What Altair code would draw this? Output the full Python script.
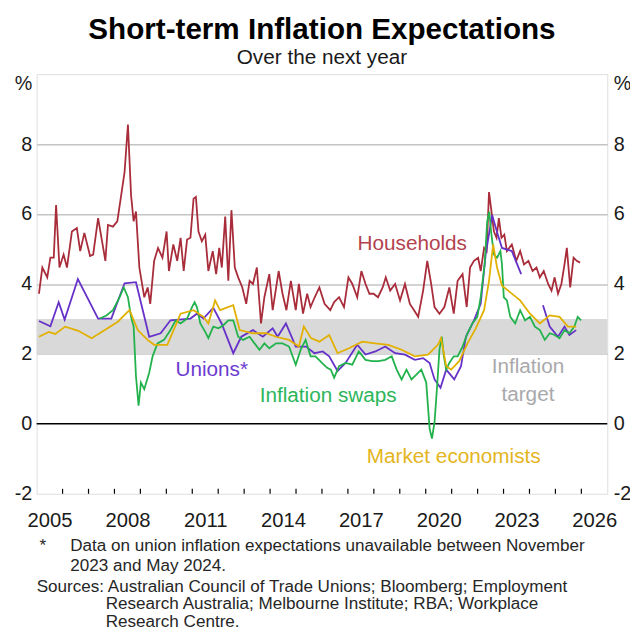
import altair as alt
import pandas as pd

# ---------------- data ----------------
hh_x = [2005.09, 2005.22, 2005.41, 2005.53, 2005.66, 2005.75, 2005.88, 2006.04, 2006.17, 2006.36,
        2006.55, 2006.68, 2006.84, 2007.06, 2007.18, 2007.37, 2007.50, 2007.65, 2007.75, 2007.94,
        2008.11, 2008.26, 2008.39, 2008.52, 2008.64, 2008.74, 2008.83, 2008.96, 2009.15, 2009.28,
        2009.38, 2009.53, 2009.68, 2009.85, 2010.01, 2010.10, 2010.27, 2010.42, 2010.55, 2010.67,
        2010.80, 2010.93, 2011.05, 2011.14, 2011.24, 2011.37, 2011.50, 2011.62, 2011.79, 2011.92,
        2012.04, 2012.14, 2012.27, 2012.39, 2012.51, 2012.64, 2012.77, 2012.93, 2013.08, 2013.21,
        2013.34, 2013.49, 2013.65, 2013.78, 2013.97, 2014.10, 2014.33, 2014.48, 2014.63, 2014.80,
        2014.99, 2015.11, 2015.27, 2015.43, 2015.56, 2015.72, 2015.90, 2016.10, 2016.32, 2016.47,
        2016.66, 2016.85, 2017.02, 2017.17, 2017.36, 2017.52, 2017.68, 2017.83, 2017.99, 2018.16,
        2018.34, 2018.46, 2018.63, 2018.82, 2019.01, 2019.20, 2019.39, 2019.55, 2019.71, 2019.90,
        2020.06, 2020.21, 2020.34, 2020.53, 2020.72, 2020.91, 2021.08, 2021.23, 2021.42, 2021.58,
        2021.71, 2021.86, 2022.02, 2022.12, 2022.25, 2022.35, 2022.44, 2022.52, 2022.63, 2022.73,
        2022.82, 2022.92, 2023.03, 2023.13, 2023.32, 2023.49, 2023.64, 2023.79, 2023.96, 2024.12,
        2024.27, 2024.40, 2024.55, 2024.72, 2024.85, 2024.97, 2025.10, 2025.23, 2025.35, 2025.44,
        2025.57, 2025.70, 2025.82, 2025.95]
hh_y = [3.72, 4.47, 4.19, 4.75, 4.75, 6.26, 4.47, 4.84, 4.47, 5.50,
        5.60, 4.94, 5.46, 4.80, 4.84, 5.88, 5.32, 4.66, 5.69, 5.64,
        5.79, 6.54, 7.20, 8.56, 6.54, 5.79, 6.07, 4.47, 3.62, 3.90,
        3.43, 4.66, 5.03, 4.75, 5.50, 4.37, 5.13, 4.66, 5.32, 4.37,
        5.27, 5.32, 6.44, 6.49, 5.50, 5.22, 5.41, 4.37, 4.94, 4.28,
        5.03, 4.47, 5.93, 4.09, 6.11, 4.47, 4.19, 3.90, 3.43, 4.09,
        4.00, 4.47, 2.87, 3.62, 4.28, 3.25, 4.37, 3.72, 3.25, 4.09,
        3.25, 4.00, 3.15, 3.72, 3.34, 3.62, 3.90, 3.43, 3.25, 3.48,
        3.62, 3.34, 4.19, 4.00, 3.62, 4.37, 4.00, 3.72, 3.72, 3.62,
        3.90, 4.19, 3.81, 4.00, 3.53, 4.00, 3.43, 3.25, 3.06, 3.81,
        4.66, 4.00, 3.34, 3.15, 3.34, 3.90, 3.15, 4.09, 4.28, 3.34,
        4.47, 4.66, 4.75, 4.37, 5.03, 4.94, 6.63, 6.16, 5.50, 5.32,
        5.88, 5.32, 5.41, 4.94, 5.13, 4.66, 4.94, 4.56, 4.66, 4.37,
        4.47, 4.19, 4.37, 4.00, 3.81, 4.19, 3.72, 4.00, 4.56, 5.03,
        3.90, 4.75, 4.66, 4.61]

un_x1 = [2005.09, 2005.53, 2005.85, 2006.08, 2006.59, 2007.37, 2007.88, 2008.39, 2008.83, 2009.34,
         2009.78, 2010.16, 2010.93, 2011.18, 2011.43, 2011.81, 2012.13, 2012.58, 2012.89, 2013.34,
         2013.72, 2014.10, 2014.29, 2014.61, 2014.99, 2015.39, 2015.71, 2016.03, 2016.28, 2016.60,
         2016.91, 2017.36, 2017.68, 2018.06, 2018.44, 2018.82, 2019.20, 2019.58, 2019.90, 2020.15,
         2020.34, 2020.57, 2020.79, 2021.10, 2021.36, 2021.55, 2021.86, 2022.12, 2022.31, 2022.56,
         2022.78, 2022.94, 2023.32, 2023.68]
un_y1 = [2.94, 2.79, 3.48, 2.98, 4.14, 3.01, 3.01, 4.02, 4.05, 2.49,
         2.59, 2.96, 3.01, 3.15, 3.01, 3.32, 2.87, 2.02, 2.49, 2.68,
         2.49, 2.73, 2.49, 2.87, 2.21, 2.21, 2.02, 2.07, 1.93, 1.51,
         1.74, 2.26, 1.98, 2.07, 2.21, 2.02, 1.98, 1.83, 1.88, 1.74,
         1.27, 1.03, 1.55, 1.27, 1.65, 2.49, 2.96, 3.43, 4.84, 5.97,
         5.41, 5.03, 4.94, 4.28]
un_x2 = [2024.52, 2024.78, 2025.10, 2025.35, 2025.54, 2025.80]
un_y2 = [3.39, 2.78, 2.49, 2.78, 2.54, 2.68]

sw_x = [2007.44, 2007.69, 2007.94, 2008.20, 2008.36, 2008.52, 2008.64, 2008.74, 2008.83, 2008.93,
        2009.02, 2009.15, 2009.34, 2009.47, 2009.66, 2009.91, 2010.16, 2010.36, 2010.55, 2010.80,
        2010.99, 2011.09, 2011.18, 2011.31, 2011.50, 2011.62, 2011.81, 2012.01, 2012.20, 2012.39,
        2012.58, 2012.77, 2012.96, 2013.21, 2013.40, 2013.59, 2013.78, 2013.97, 2014.23, 2014.48,
        2014.73, 2014.99, 2015.18, 2015.37, 2015.56, 2015.75, 2016.00, 2016.20, 2016.34, 2016.47,
        2016.66, 2016.91, 2017.17, 2017.42, 2017.68, 2017.93, 2018.18, 2018.44, 2018.69, 2018.88,
        2019.07, 2019.26, 2019.45, 2019.64, 2019.83, 2020.02, 2020.15, 2020.24, 2020.34, 2020.44,
        2020.53, 2020.62, 2020.70, 2020.79, 2020.91, 2021.08, 2021.23, 2021.42, 2021.61, 2021.80,
        2021.99, 2022.12, 2022.27, 2022.37, 2022.45, 2022.52, 2022.63, 2022.75, 2022.88, 2022.94,
        2023.01, 2023.13, 2023.26, 2023.45, 2023.64, 2023.83, 2024.02, 2024.21, 2024.40, 2024.59,
        2024.78, 2024.97, 2025.16, 2025.35, 2025.54, 2025.73, 2025.86, 2025.99]
sw_y = [3.01, 3.10, 3.25, 3.62, 3.90, 3.62, 3.06, 2.78, 1.36, 0.52,
        1.18, 0.99, 1.46, 1.93, 2.30, 2.40, 2.68, 2.96, 2.87, 3.01,
        3.34, 3.48, 3.34, 2.87, 2.63, 2.45, 2.78, 2.73, 2.82, 2.96,
        2.96, 2.49, 2.40, 2.49, 2.30, 2.12, 2.30, 2.16, 2.30, 2.30,
        2.21, 1.69, 2.12, 2.40, 1.93, 1.93, 1.74, 1.60, 1.55, 1.32,
        1.65, 1.74, 1.69, 2.07, 1.83, 1.79, 1.79, 1.83, 1.93, 1.55,
        1.27, 1.55, 1.27, 1.41, 1.55, 1.18, -0.14, -0.42, 0.05, 1.08,
        2.12, 2.49, 1.93, 1.55, 1.74, 1.93, 1.93, 2.21, 2.59, 2.87,
        3.06, 3.62, 4.56, 5.79, 6.07, 5.50, 4.84, 4.75, 4.94, 4.56,
        3.62, 3.53, 3.06, 2.87, 3.25, 2.96, 3.06, 2.78, 2.68, 2.40,
        2.59, 2.54, 2.45, 2.68, 2.59, 2.78, 3.06, 2.96]

me_x = [2005.09, 2005.47, 2005.72, 2006.10, 2006.61, 2007.12, 2007.63, 2008.13, 2008.58, 2008.90,
        2009.28, 2009.53, 2010.04, 2010.55, 2011.05, 2011.43, 2011.62, 2011.88, 2012.07, 2012.58,
        2012.83, 2013.34, 2013.85, 2014.23, 2014.73, 2015.11, 2015.30, 2015.58, 2015.90, 2016.28,
        2016.60, 2017.04, 2017.55, 2018.06, 2018.56, 2019.07, 2019.58, 2020.09, 2020.47, 2020.59,
        2020.79, 2020.98, 2021.29, 2021.61, 2021.93, 2022.25, 2022.44, 2022.60, 2022.75, 2022.94,
        2023.26, 2023.64, 2024.02, 2024.40, 2024.78, 2025.16, 2025.48, 2025.80]
me_y = [2.49, 2.63, 2.57, 2.78, 2.66, 2.45, 2.68, 2.92, 3.25, 2.68,
        2.40, 2.26, 2.26, 3.15, 3.25, 3.06, 2.87, 3.53, 3.25, 3.39,
        2.68, 2.59, 2.59, 2.49, 2.40, 2.21, 2.78, 2.45, 2.35, 2.54,
        2.02, 2.16, 2.35, 2.30, 2.26, 2.12, 1.93, 1.98, 2.26, 2.45,
        1.65, 1.55, 1.79, 2.30, 2.73, 3.25, 4.09, 5.13, 4.47, 3.95,
        3.76, 3.53, 3.15, 2.87, 3.10, 3.06, 2.78, 2.78]

series_names = ["Households", "Unions", "Inflation swaps", "Market economists"]
series_colors = ["#a82c3a", "#6531c8", "#22b24c", "#e2b000"]

label_text = ["Households", "Unions*", "Inflation swaps", "Market economists", "Inflation", "target"]
label_x = [2019.48, 2011.75, 2016.24, 2021.08, 2023.94, 2023.94]
label_y = [5.15, 1.54, 0.78, -0.96, 1.62, 0.82]
label_colors = ["#b2424e", "#6c3bd0", "#2cb65a", "#e4b520", "#a9a9ab", "#a9a9ab"]

year_ticks = list(range(2006, 2027))
year_labels = [2005.5, 2008.5, 2011.5, 2014.5, 2017.5, 2020.5, 2023.5, 2026.5]
y_ticks = [-2, 0, 2, 4, 6, 8, 10]
target_band = (2, 3)

foot_lines = ["*", "Data on union inflation expectations unavailable between November",
              "2023 and May 2024.",
              "Sources: Australian Council of Trade Unions; Bloomberg; Employment",
              "Research Australia; Melbourne Institute; RBA; Workplace",
              "Research Centre."]

# ---------------- frames ----------------
rows = []
for x, y in zip(hh_x, hh_y):
    rows.append(("Households", "h", x, y))
for x, y in zip(un_x1, un_y1):
    rows.append(("Unions", "u1", x, y))
for x, y in zip(un_x2, un_y2):
    rows.append(("Unions", "u2", x, y))
for x, y in zip(sw_x, sw_y):
    rows.append(("Inflation swaps", "s", x, y))
for x, y in zip(me_x, me_y):
    rows.append(("Market economists", "m", x, y))
df = pd.DataFrame(rows, columns=["series", "seg", "x", "y"])

labels_df = pd.DataFrame({"text": label_text, "x": label_x, "y": label_y, "c": label_colors})
ticks_df = pd.DataFrame({"x": year_ticks})
band_df = pd.DataFrame({"lo": [target_band[0]], "hi": [target_band[1]]})
zero_df = pd.DataFrame({"y": [0]})

W, H = 578, 425
FONT = "Liberation Sans"

xscale = alt.Scale(domain=[2005, 2027], nice=False, zero=False)
yscale = alt.Scale(domain=[-2, 10], nice=False, zero=False)

x_axis = alt.Axis(values=year_labels, labelExpr="'' + floor(datum.value)", tickSize=0,
                  domain=False, grid=False, title=None, labelFontSize=20.5, labelFont=FONT,
                  labelColor="#1a1a1a", labelPadding=17, labelFlush=False, labelOverlap=False)

y_left = alt.Axis(values=y_ticks, labelExpr="datum.value == 10 ? '%' : '' + datum.value",
                  orient="left", tickSize=0, domain=False, title=None, labelFontSize=20,
                  labelFont=FONT, labelColor="#1a1a1a", labelPadding=5,
                  labelBaseline={"condition": {"test": "datum.value == 10", "value": "top"}, "value": "middle"},
                  grid=True, gridColor="#c4c4c4", gridWidth=1.5,
                  gridOpacity={"condition": {"test": "datum.value >= 2 && datum.value <= 8", "value": 1}, "value": 0})
y_right = alt.Axis(values=y_ticks, labelExpr="datum.value == 10 ? '%' : '' + datum.value",
                   orient="right", tickSize=0, domain=False, title=None, labelFontSize=20,
                   labelFont=FONT, labelColor="#1a1a1a", labelPadding=6, grid=False,
                   labelBaseline={"condition": {"test": "datum.value == 10", "value": "top"}, "value": "middle"})

band = alt.Chart(band_df).mark_rect(color="#d9d9d9").encode(
    y=alt.Y("lo:Q", scale=yscale, axis=None), y2="hi:Q")

zero = alt.Chart(zero_df).mark_rule(color="black", strokeWidth=1.5).encode(
    y=alt.Y("y:Q", scale=yscale, axis=y_right))

ticks = alt.Chart(ticks_df).mark_rule(color="black", strokeWidth=1.2).encode(
    x=alt.X("x:Q", scale=xscale, axis=x_axis), y=alt.value(H), y2=alt.value(H - 5))

lines = alt.Chart(df).mark_line(strokeWidth=1.8).encode(
    x=alt.X("x:Q", scale=xscale, axis=x_axis),
    y=alt.Y("y:Q", scale=yscale, axis=y_left),
    color=alt.Color("series:N", scale=alt.Scale(domain=series_names, range=series_colors), legend=None),
    detail="seg:N")

labels = alt.Chart(labels_df).mark_text(fontSize=21, font=FONT, align="center", baseline="middle").encode(
    x=alt.X("x:Q", scale=xscale, axis=x_axis),
    y=alt.Y("y:Q", scale=yscale, axis=None),
    text="text:N",
    color=alt.Color("c:N", scale=None))

foot_pos = [(3, 478), (34, 478), (34, 498), (0, 519), (70, 537), (70, 555)]
foot_layers = []
for txt, (fx, fy) in zip(foot_lines, foot_pos):
    foot_layers.append(
        alt.Chart(pd.DataFrame({"t": [txt]})).mark_text(
            fontSize=17.3, font=FONT, align="left", baseline="middle", color="#262626").encode(
            text="t:N", x=alt.value(fx), y=alt.value(fy)))

chart = alt.layer(band, zero, ticks, lines, labels, *foot_layers).resolve_axis(
    y="independent").properties(
    width=W, height=H,
    autosize=alt.AutoSizeParams(type="none"),
    padding={"left": 29, "top": 63, "right": 23, "bottom": 135},
    title=alt.TitleParams(text="Short-term Inflation Expectations", subtitle="Over the next year",
                          fontSize=30, fontWeight="bold", font=FONT, color="black",
                          subtitleFont=FONT, subtitleFontSize=21, subtitleColor="#1a1a1a",
                          anchor="middle", frame="group", offset=6, subtitlePadding=2)
).configure_view(stroke="black", strokeWidth=1.5).configure(background="white")

chart.save("out.html", embed_options={"renderer": "svg", "actions": False})
